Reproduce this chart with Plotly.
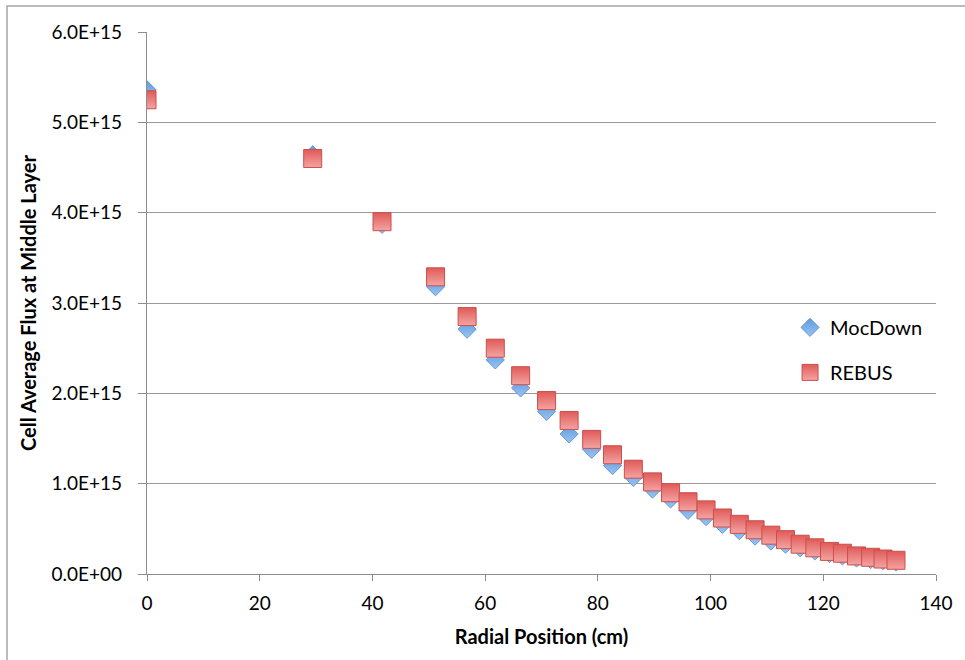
import plotly.graph_objects as go

radial_cm = [0.0, 29.4, 41.7, 51.2, 56.8, 61.8, 66.3, 70.9, 74.9, 78.9, 82.6, 86.3,
             89.7, 92.9, 96.0, 99.2, 102.1, 105.1, 107.9, 110.7, 113.3, 115.9, 118.5,
             121.1, 123.4, 125.9, 128.4, 130.6, 132.9]
mocdown = [5.36e15, 4.64e15, 3.87e15, 3.18e15, 2.71e15, 2.37e15, 2.06e15, 1.80e15,
           1.55e15, 1.38e15, 1.20e15, 1.07e15, 0.94e15, 0.83e15, 0.705e15, 0.635e15,
           0.55e15, 0.48e15, 0.42e15, 0.365e15, 0.33e15, 0.29e15, 0.255e15, 0.225e15,
           0.20e15, 0.177e15, 0.16e15, 0.147e15, 0.133e15]
rebus = [5.25e15, 4.60e15, 3.90e15, 3.29e15, 2.85e15, 2.50e15, 2.195e15, 1.92e15,
         1.70e15, 1.49e15, 1.32e15, 1.16e15, 1.02e15, 0.90e15, 0.80e15, 0.71e15,
         0.62e15, 0.55e15, 0.49e15, 0.43e15, 0.38e15, 0.33e15, 0.29e15, 0.25e15,
         0.23e15, 0.20e15, 0.185e15, 0.166e15, 0.152e15]

y_tickvals = [0, 1e15, 2e15, 3e15, 4e15, 5e15, 6e15]
y_ticktext = ["0.0E+00", "1.0E+15", "2.0E+15", "3.0E+15", "4.0E+15", "5.0E+15", "6.0E+15"]
x_tickvals = [0, 20, 40, 60, 80, 100, 120, 140]

FONT = "Lato, Open Sans, sans-serif"

fig = go.Figure()
fig.add_trace(go.Scatter(
    x=radial_cm, y=mocdown, mode="markers", name="MocDown", legendgroup="a",
    marker=dict(symbol="diamond", size=14, color="#5b9be0",
                line=dict(color="#4f88c8", width=0.8),
                gradient=dict(type="vertical", color="#9cc3f0")),
))
fig.add_trace(go.Scatter(
    x=radial_cm, y=rebus, mode="markers", name="REBUS", legendgroup="b",
    marker=dict(symbol="square", size=18, color="#e05a58",
                line=dict(color="#c9504e", width=1),
                gradient=dict(type="vertical", color="#f4a4a2")),
))

fig.update_layout(
    width=965, height=660,
    margin=dict(l=147, r=29, t=32, b=86),
    paper_bgcolor="white", plot_bgcolor="white",
    font=dict(family=FONT, size=20, color="#000000"),
    showlegend=True,
    legend=dict(x=0.815, y=0.491, xanchor="left", yanchor="top",
                font=dict(family=FONT, size=20), traceorder="grouped",
                tracegroupgap=16, bgcolor="rgba(0,0,0,0)"),
    xaxis=dict(range=[0, 140], tickvals=x_tickvals, showgrid=False, zeroline=False,
               showline=True, linecolor="#8c8c8c", linewidth=1.2,
               ticks="outside", ticklen=6, tickcolor="#8c8c8c",
               tickfont=dict(size=19), ticklabelstandoff=6,
               title=dict(text="<b>Radial Position (cm)</b>", font=dict(size=20), standoff=17)),
    yaxis=dict(range=[0, 6e15], tickvals=y_tickvals, ticktext=y_ticktext,
               showgrid=True, gridcolor="#9a9a9a", gridwidth=1, zeroline=False,
               showline=True, linecolor="#8c8c8c", linewidth=1.2,
               ticks="outside", ticklen=8, tickcolor="#8c8c8c",
               tickfont=dict(size=19), ticklabelstandoff=12,
               title=dict(text="<b>Cell Average Flux at Middle Layer</b>", font=dict(size=20), standoff=9)),
    shapes=[dict(type="rect", xref="paper", yref="paper",
                 x0=-0.1774, x1=1.2, y0=-0.4, y1=1.048,
                 line=dict(color="#a6a6a6", width=1.5), layer="below")],
)

fig.write_html("out.html")
